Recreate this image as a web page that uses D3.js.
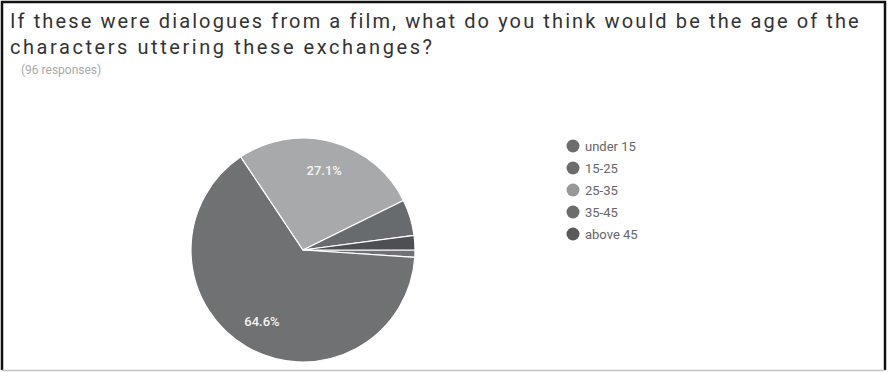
<!DOCTYPE html>
<html>
<head>
<meta charset="utf-8">
<script src="https://cdn.jsdelivr.net/npm/d3@7"></script>
<style>
  html, body { margin: 0; padding: 0; background: #fff; }
  svg { display: block; }
</style>
</head>
<body>
<svg id="chart" width="889" height="372"></svg>
<script>
// Survey answers: age group of the characters (96 responses)
const categories = ["under 15", "15-25", "25-35", "35-45", "above 45"];
const counts = [1, 62, 26, 5, 2];
const sliceColors = ["#6f7274", "#6f7173", "#a8a9aa", "#686b6d", "#4c5053"];
const legendColors = ["#6d6d6d", "#6b6b6b", "#989898", "#6c6c6c", "#595959"];
const titleLines = [
  "If these were dialogues from a film, what do you think would be the age of the",
  "characters uttering these exchanges?"
];
const responsesNote = "(96 responses)";

const svg = d3.select("#chart");
const W = 889, H = 372;

// frame
svg.append("rect").attr("x", 0).attr("y", 0).attr("width", W).attr("height", H).attr("fill", "#fff");
svg.append("path")
  .attr("d", `M2,${H - 2} L2,2 L885,2 L885,${H - 2}`)
  .attr("fill", "none").attr("stroke", "#111").attr("stroke-width", 2.5);
svg.append("line")
  .attr("x1", 2).attr("x2", 885).attr("y1", H - 1.5).attr("y2", H - 1.5)
  .attr("stroke", "#c4c4c4").attr("stroke-width", 1.5);

// title, each line letter-spaced to its header width
const lineWidths = [848, 422];
const title = svg.append("g").attr("font-family", "Roboto, 'Noto Sans', sans-serif").attr("fill", "#333");
title.selectAll("text").data(titleLines).join("text")
  .attr("x", 10)
  .attr("y", (d, i) => 28 + i * 26)
  .attr("font-size", 20)
  .text(d => d)
  .each(function (d, i) {
    const got = this.getComputedTextLength();
    const s = (lineWidths[i] - got) / (d.length - 1);
    d3.select(this).attr("letter-spacing", s.toFixed(3));
  });

svg.append("text")
  .attr("x", 21).attr("y", 74)
  .attr("font-family", "Roboto, 'Noto Sans', sans-serif")
  .attr("font-size", 12).attr("fill", "#a8a8a8")
  .text(responsesNote);

// pie
const cx = 303, cy = 250, r = 112;
const total = d3.sum(counts);
const pie = d3.pie().sort(null).value(d => d)
  .startAngle(Math.PI / 2).endAngle(Math.PI / 2 + 2 * Math.PI);
const arcs = pie(counts);
const arc = d3.arc().innerRadius(0).outerRadius(r);
const labelArc = d3.arc().innerRadius(82).outerRadius(82);

const g = svg.append("g").attr("transform", `translate(${cx},${cy})`);
g.selectAll("path").data(arcs).join("path")
  .attr("d", arc)
  .attr("fill", (d, i) => sliceColors[i])
  .attr("stroke", "#fff").attr("stroke-width", 1.2);

g.selectAll("text").data(arcs.filter(d => d.data / total > 0.1)).join("text")
  .attr("transform", d => `translate(${labelArc.centroid(d)})`)
  .attr("text-anchor", "middle").attr("dy", "0.35em")
  .attr("font-family", "Roboto, 'Noto Sans', sans-serif")
  .attr("font-size", 13).attr("font-weight", 500).attr("fill", "#f4f4f4")
  .text(d => (d.data / total * 100).toFixed(1) + "%");

// legend
const legend = svg.append("g").attr("transform", "translate(573,146)");
const item = legend.selectAll("g").data(categories).join("g")
  .attr("transform", (d, i) => `translate(0,${i * 22})`);
item.append("circle").attr("r", 6.5).attr("fill", (d, i) => legendColors[i]);
item.append("text")
  .attr("x", 12).attr("dy", "0.35em")
  .attr("font-family", "Roboto, 'Noto Sans', sans-serif")
  .attr("font-size", 13).attr("fill", "#666")
  .text(d => d);
</script>
</body>
</html>
